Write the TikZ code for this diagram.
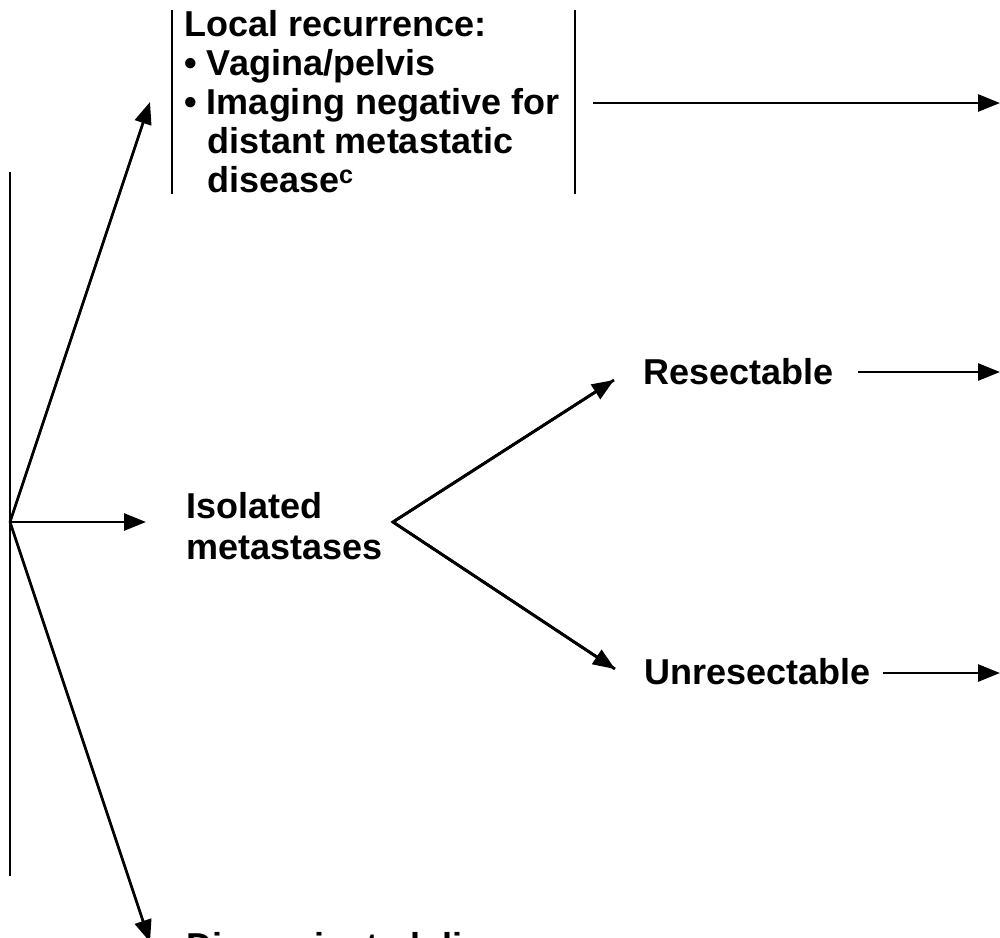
\documentclass[tikz,border=0pt]{standalone}
\usepackage{fontspec}
\setmainfont{Liberation Sans}
\usetikzlibrary{arrows.meta}
\begin{document}
\begin{tikzpicture}[x=1pt,y=-1pt,
  line width=2.8pt,
  conn/.style={-{Triangle[length=22pt,width=17pt]}},
  lbl/.style={inner sep=0pt, anchor=north west, align=left,
    font=\fontsize{36}{39}\selectfont\bfseries},
  sidebar/.style={line width=2.8pt}]
\useasboundingbox (0,0) rectangle (1000,937);
\clip (0,0) rectangle (1000,937);
% text nodes
\node[lbl] (local) at (183,9) {Local recurrence:\\• Vagina/pelvis\\• Imaging negative for\\\phantom{• }distant metastatic\\\phantom{• }disease\textsuperscript{c}};
\node[lbl, font=\fontsize{36}{41}\selectfont\bfseries] (iso) at (185,491) {Isolated\\metastases};
\node[lbl] (res) at (642,357) {Resectable};
\node[lbl] (unres) at (643,657) {Unresectable};
\node[lbl] (diss) at (185,931) {Disseminated disease};
% coordinates
\coordinate (vt) at (10,172);
\coordinate (vb) at (10,876);
\coordinate (j) at (10,522);
\coordinate (ltip) at (150,102);
\coordinate (itip) at (146,522);
\coordinate (dtip) at (150,942);
\coordinate (lbt) at (172,10);
\coordinate (lbb) at (172,194);
\coordinate (rbt) at (575,10);
\coordinate (rbb) at (575,194);
\coordinate (lout) at (593,103);
\coordinate (lend) at (1000,103);
\coordinate (v) at (393,522);
\coordinate (rtip) at (614,380);
\coordinate (utip) at (615,669);
\coordinate (rout) at (858,372);
\coordinate (rend) at (1000,372);
\coordinate (uout) at (883,673);
\coordinate (uend) at (1000,673);
% lines
\draw[sidebar] (vt) -- (vb);
\draw[sidebar] (lbt) -- (lbb);
\draw[sidebar] (rbt) -- (rbb);
\draw[conn] (j) -- (ltip);
\draw[conn] (j) -- (itip);
\draw[conn] (j) -- (dtip);
\draw[conn] (lout) -- (lend);
\draw[line join=miter] (rtip) -- (v) -- (utip);
\draw[conn] (v) -- (rtip);
\draw[conn] (v) -- (utip);
\draw[conn] (rout) -- (rend);
\draw[conn] (uout) -- (uend);
\end{tikzpicture}
\end{document}
